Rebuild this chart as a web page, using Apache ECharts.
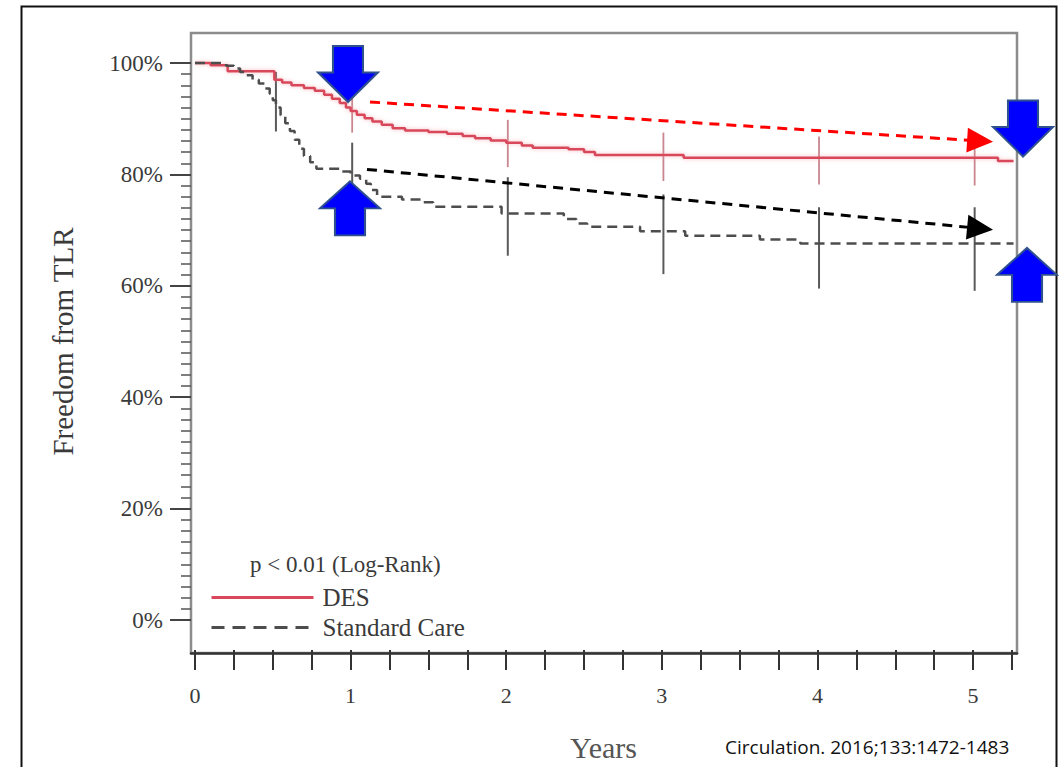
<!DOCTYPE html>
<html>
<head>
<meta charset="utf-8">
<script src="https://cdn.jsdelivr.net/npm/echarts@6/dist/echarts.min.js"></script>
<style>
  html, body { margin: 0; padding: 0; background: #fff; }
  #chart { width: 1059px; height: 767px; }
</style>
</head>
<body>
<div id="chart"></div>
<script>
// --- Kaplan-Meier data (years, % free from TLR) ---
var desTime = [0, 0.1, 0.21, 0.51, 0.56, 0.62, 0.7, 0.77, 0.83, 0.88, 0.93, 0.97, 1.0, 1.04, 1.09, 1.14, 1.2, 1.27, 1.35, 1.5, 1.62, 1.72, 1.8, 1.9, 2.0, 2.1, 2.17, 2.4, 2.5, 2.57, 3.14, 5.16, 5.26];
var desSurv = [100, 99.6, 98.5, 97.0, 96.5, 96.0, 95.5, 95.0, 94.3, 93.6, 92.8, 92.0, 91.4, 90.7, 90.1, 89.5, 88.9, 88.3, 87.9, 87.6, 87.3, 86.9, 86.5, 86.1, 85.7, 85.2, 84.8, 84.5, 84.0, 83.5, 83.0, 82.4, 82.4];

var scTime = [0, 0.2, 0.25, 0.29, 0.33, 0.37, 0.41, 0.45, 0.48, 0.5, 0.52, 0.55, 0.58, 0.61, 0.64, 0.67, 0.7, 0.74, 0.78, 0.93, 1.0, 1.06, 1.1, 1.13, 1.17, 1.33, 1.45, 1.53, 1.97, 2.37, 2.45, 2.52, 2.86, 3.15, 3.63, 3.89, 5.26];
var scSurv = [100, 99.5, 99.0, 98.4, 97.8, 97.0, 96.3, 95.4, 94.5, 93.3, 92.0, 90.6, 89.2, 87.8, 86.2, 84.6, 83.3, 82.2, 81.0, 80.5, 79.8, 79.2, 78.3, 77.2, 76.0, 75.5, 75.0, 74.2, 73.0, 72.0, 71.2, 70.6, 69.8, 69.0, 68.3, 67.6, 67.6];

// --- confidence bars ---
var desBarYears = [1.01, 2.01, 3.01, 4.01, 5.01];
var desBarLow = [87.5, 81.3, 78.8, 78.2, 78.0];
var desBarHigh = [94.0, 89.8, 87.5, 86.8, 86.6];
var scBarYears = [0.52, 1.01, 2.01, 3.01, 4.01, 5.01];
var scBarLow = [87.7, 72.9, 65.4, 62.1, 59.5, 59.1];
var scBarHigh = [98.4, 85.7, 79.5, 76.4, 74.1, 74.1];

// --- tick labels ---
var yearLabels = [0, 1, 2, 3, 4, 5];

// --- annotations (data coords, plus pixel nudge past the last tick) ---
var downArrowTips = [[0.983, 93.0, 0], [5.25, 83.2, 11]];
var upArrowTips = [[0.996, 78.75, 0], [5.25, 66.8, 15]];
var redTrend = [[1.125, 93.0], [5.045, 86.0]];
var blackTrend = [[1.105, 80.9], [5.045, 70.3]];

function zip(a, b) { return a.map(function(v, i) { return [v, b[i]]; }); }
function zip3(a, b, c) { return a.map(function(v, i) { return [v, b[i], c[i]]; }); }

var serif = '"Liberation Serif", "Times New Roman", serif';
var ink = '#3a3a3a';
var red = '#d9475a';
var gray = '#4d4d4d';

function barRenderer(color, width) {
  return function(params, api) {
    var top = api.coord([api.value(0), api.value(2)]);
    var bot = api.coord([api.value(0), api.value(1)]);
    return {
      type: 'line',
      shape: { x1: top[0], y1: top[1], x2: bot[0], y2: bot[1] },
      style: { stroke: color, lineWidth: width }
    };
  };
}

var downPath = 'path://M15,0L45,0L45,26L60,26L30,55L0,26L15,26Z';
var upPath = 'path://M30,0L60,27L45,27L45,54L15,54L15,27L0,27Z';

var chart = echarts.init(document.getElementById('chart'), null, { renderer: 'svg' });
chart.setOption({
  animation: false,
  backgroundColor: '#fff',
  grid: [
    { left: 191, right: 42, top: 33, bottom: 114, show: true, borderColor: '#8c8c8c', borderWidth: 2.5 },
    { left: 195, right: 47, top: 63, bottom: 144 }
  ],
  legend: {
    data: [
      { name: 'DES', lineStyle: { width: 3 } },
      { name: 'Standard Care', lineStyle: { width: 3, type: [13, 8] } }
    ],
    orient: 'vertical',
    left: 210,
    top: 580,
    padding: [5, 5, 5, 0],
    itemWidth: 102,
    itemHeight: 12,
    itemGap: 5,
    itemStyle: { opacity: 0 },
    textStyle: { fontFamily: serif, fontSize: 25, color: ink, padding: [0, 0, 0, 4] }
  },
  xAxis: [
    {
      gridIndex: 0, type: 'value', min: 0, max: 1,
      axisLine: { show: true, onZero: false, lineStyle: { color: '#333', width: 2.5 } },
      axisTick: { show: false }, axisLabel: { show: false }, splitLine: { show: false }
    },
    {
      gridIndex: 1, type: 'value', min: 0, max: 5.25, interval: 0.25, offset: 30,
      axisLine: { show: false, onZero: false },
      axisTick: { show: true, length: 20, lineStyle: { color: '#333', width: 2 } },
      axisLabel: {
        margin: 34, fontFamily: serif, fontSize: 22, color: ink,
        formatter: function(v) { return yearLabels.indexOf(v) >= 0 ? String(v) : ''; }
      },
      splitLine: { show: false },
      name: 'Years', nameLocation: 'middle', nameGap: 82,
      nameTextStyle: { fontFamily: serif, fontSize: 30, color: '#555' }
    }
  ],
  yAxis: [
    { gridIndex: 0, type: 'value', min: 0, max: 1, show: false },
    {
      gridIndex: 1, type: 'value', min: 0, max: 100, interval: 20, offset: 4,
      axisLine: { show: false, onZero: false },
      axisTick: { show: true, length: 21, lineStyle: { color: '#444', width: 2 } },
      minorTick: { show: true, splitNumber: 10, length: 10, lineStyle: { color: '#555', width: 1.5 } },
      axisLabel: { formatter: '{value}%', margin: 28, fontFamily: serif, fontSize: 23, color: ink },
      splitLine: { show: false },
      name: 'Freedom from TLR', nameLocation: 'middle', nameRotate: 90, nameGap: 114,
      nameTextStyle: { fontFamily: serif, fontSize: 29, color: ink }
    }
  ],
  series: [
    {
      name: 'DES confidence', type: 'custom', xAxisIndex: 1, yAxisIndex: 1,
      data: zip3(desBarYears, desBarLow, desBarHigh),
      encode: { x: 0, y: [1, 2] },
      renderItem: barRenderer('#c9868e', 1.8), clip: false, silent: true, z: 2
    },
    {
      name: 'SC confidence', type: 'custom', xAxisIndex: 1, yAxisIndex: 1,
      data: zip3(scBarYears, scBarLow, scBarHigh),
      encode: { x: 0, y: [1, 2] },
      renderItem: barRenderer('#5a5a5a', 2), clip: false, silent: true, z: 2
    },
    {
      name: 'DES', type: 'line', xAxisIndex: 1, yAxisIndex: 1,
      data: zip(desTime, desSurv), step: 'end', symbol: 'none', clip: false, z: 3,
      lineStyle: { color: red, width: 2.5, shadowColor: 'rgba(240,140,150,0.6)', shadowBlur: 4 },
      itemStyle: { color: red }
    },
    {
      name: 'Standard Care', type: 'line', xAxisIndex: 1, yAxisIndex: 1,
      data: zip(scTime, scSurv), step: 'end', symbol: 'none', clip: false, z: 3,
      lineStyle: { color: gray, width: 2.5, type: [10, 6] },
      itemStyle: { color: gray }
    },
    {
      name: 'notes', type: 'scatter', xAxisIndex: 1, yAxisIndex: 1, data: [], clip: false, z: 5,
      markLine: {
        silent: true, animation: false,
        symbol: ['none', 'triangle'], symbolSize: [25, 26],
        label: { show: false },
        data: [
          [{ coord: redTrend[0], lineStyle: { color: '#ff0000', width: 3, type: [10, 7] }, itemStyle: { color: '#ff0000' } },
           { coord: redTrend[1] }],
          [{ coord: blackTrend[0], lineStyle: { color: '#000', width: 3, type: [10, 7] }, itemStyle: { color: '#000' } },
           { coord: blackTrend[1] }]
        ]
      },
      markPoint: {
        silent: true, animation: false,
        label: { show: false },
        itemStyle: { color: '#0000ff', borderColor: '#2f528f', borderWidth: 2 },
        data: downArrowTips.map(function(p) {
          return { coord: [p[0], p[1]], symbol: downPath, symbolSize: [60, 56], symbolOffset: [p[2], '-50%'] };
        }).concat(upArrowTips.map(function(p) {
          return { coord: [p[0], p[1]], symbol: upPath, symbolSize: [60, 54], symbolOffset: [p[2], '50%'] };
        }))
      }
    }
  ],
  graphic: [
    { type: 'rect', left: 19, top: 4, shape: { x: 0, y: 0, width: 1035, height: 800 },
      style: { fill: 'none', stroke: '#111', lineWidth: 2 }, silent: true },
    { type: 'text', left: 250, top: 553,
      style: { text: 'p < 0.01 (Log-Rank)', fontFamily: serif, fontSize: 23, fill: ink } },
    { type: 'text', left: 725, top: 737,
      style: { text: 'Circulation. 2016;133:1472-1483', fontFamily: '"Open Sans", "Liberation Sans", sans-serif', fontSize: 19, fill: '#111' } }
  ]
});
window.addEventListener('resize', function() { chart.resize(); });
</script>
</body>
</html>
